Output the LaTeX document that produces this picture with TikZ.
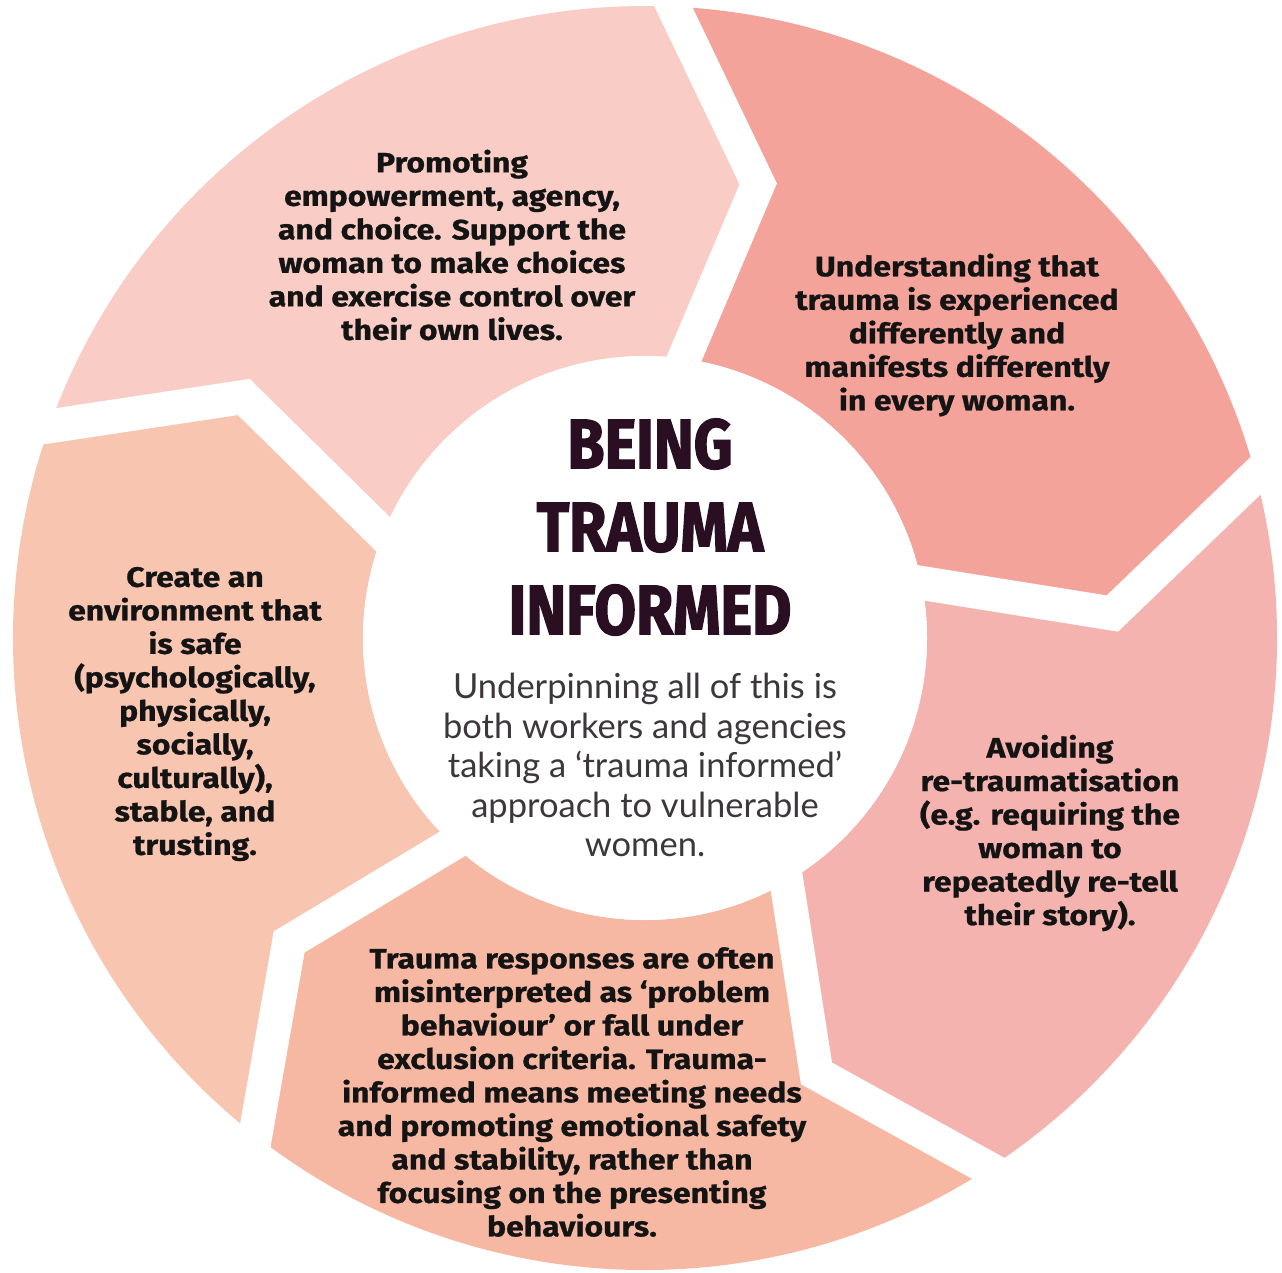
\documentclass[tikz,border=0pt]{standalone}
\usepackage{fontspec}
\setmainfont{Lato}
\newfontfamily\segfont{Fira Sans}[BoldFeatures={FakeStretch=1.14,FakeBold=0.8}]
\newfontfamily\titlefont{Fira Sans}[BoldFeatures={FakeStretch=0.86,FakeBold=2}]
\definecolor{segA}{HTML}{F9CDC5}
\definecolor{segB}{HTML}{F4A39A}
\definecolor{segC}{HTML}{F5B3AF}
\definecolor{segD}{HTML}{F6B8A2}
\definecolor{segE}{HTML}{F8C5B1}
\definecolor{titleink}{HTML}{2A0F22}
\definecolor{bodyink}{HTML}{3B373B}
\begin{document}
\begin{tikzpicture}[x=1pt,y=1pt,
  segtext/.style={align=center, inner sep=0pt, text=black!92,
    font=\segfont\bfseries\fontsize{28}{33.5}\selectfont},
  titletext/.style={align=center, inner sep=0pt, text=titleink,
    font=\titlefont\bfseries\fontsize{70}{83}\selectfont},
  bodytext/.style={align=center, inner sep=0pt, text=bodyink,
    font=\fontsize{34.5}{39.5}\selectfont},
  gapline/.style={white, line width=34pt, line join=miter}]
\useasboundingbox (0,0) rectangle (1282,-1272);
\fill[white] (0,0) rectangle (1282,-1272);

% ring of five chevron segments, flowing clockwise
% each gap: outer angle / bend angle / inner angle
\begin{scope}[shift={(645,-638)}]
  \foreach \ao/\ab/\ai/\bo/\bb/\bi/\c in {
      161.5/149/161.5/88.5/76/84/segA,
      88.5/76/84/16/3/14/segB,
      16/3/14/-56/-68.5/-57/segC,
      -56/-68.5/-57/-127/-139.5/-131/segD,
      -127/-139.5/-131/-198.5/-211/-198.5/segE}
    \fill[\c] (\ao:632pt) arc[start angle=\ao, end angle=\bo, radius=632pt]
      -- (\bb:468pt) -- (\bi:282pt)
      arc[start angle=\bi, end angle=\ai, radius=282pt]
      -- (\ab:468pt) -- cycle;
  % white chevron gaps between the segments
  \foreach \go/\gb/\gi in {88.5/76/84, 16/3/14, -56/-68.5/-57, -127/-139.5/-131, 161.5/149/161.5}
    \draw[gapline] (\go:655pt) -- (\gb:468pt) -- (\gi:250pt);
  % central disc
  \node[circle, fill=white, minimum size=564pt, inner sep=0pt] (hub) at (0,0) {};
\end{scope}

% segment texts
\node[segtext] (empower) at (452,-245) {Promoting\\empowerment, agency,\\and choice. Support the\\woman to make choices\\and exercise control over\\their own lives.};
\node[segtext] (understand) at (957,-335) {Understanding that\\trauma is experienced\\differently and\\manifests differently\\in every woman.};
\node[segtext] (avoid) at (1050,-833) {Avoiding\\re-traumatisation\\(e.g. requiring the\\woman to\\repeatedly re-tell\\their story).};
\node[segtext] (responses) at (572,-1092) {Trauma responses are often\\misinterpreted as ‘problem\\behaviour’ or fall under\\exclusion criteria. Trauma-\\informed means meeting needs\\and promoting emotional safety\\and stability, rather than\\focusing on the presenting\\behaviours.};
\node[segtext] (safe) at (195,-714) {Create an\\environment that\\is safe\\(psychologically,\\physically,\\socially,\\culturally),\\stable, and\\trusting.};

% centre texts
\node[titletext] (title) at (650,-527) {BEING\\TRAUMA\\INFORMED};
\node[bodytext] (under) at (645,-765) {Underpinning all of this is\\both workers and agencies\\taking a ‘trauma informed’\\approach to vulnerable\\women.};
\end{tikzpicture}
\end{document}
